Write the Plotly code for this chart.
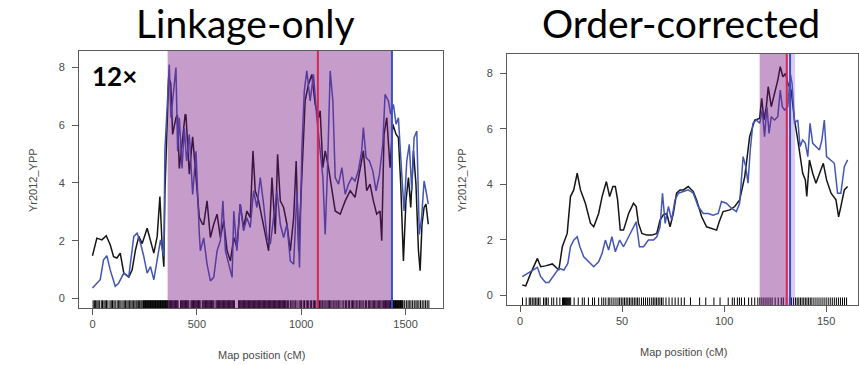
import plotly.graph_objects as go

# ---------------- Data: Linkage-only panel ----------------
lo_black_x = [0, 21, 45, 66, 85, 101, 117, 133, 150, 174, 190, 206, 222, 238, 262, 278, 294, 310, 323, 334, 342, 347, 355,
              365, 375, 384, 400, 407, 416, 432, 444, 448, 464, 480, 496, 512, 528, 533, 549, 565, 581, 597, 613, 629, 645,
              661, 677, 692, 708, 724, 740, 756, 769, 780, 796, 812, 828, 844, 860, 876, 887, 900, 916, 932, 948, 964,
              976, 988, 1003, 1019, 1035, 1051, 1067, 1083, 1091, 1104, 1115, 1131, 1163, 1187, 1211, 1235, 1258, 1282,
              1298, 1314, 1330, 1346, 1362, 1378, 1386, 1397, 1410, 1426, 1439, 1455, 1466, 1477, 1490, 1502, 1514,
              1525, 1538, 1550, 1562, 1570, 1579, 1589, 1598, 1609]
lo_black_y = [1.48, 2.09, 2.03, 2.17, 1.86, 1.45, 1.40, 1.57, 0.88, 0.74, 0.99, 1.68, 2.15, 1.90, 2.43, 2.03, 1.57, 2.15,
              3.53, 1.80, 1.10, 3.64, 5.26,
              7.65, 7.45, 5.68, 6.26, 6.35, 4.50, 5.68, 6.36, 6.35, 4.30, 5.60, 4.20, 2.80, 2.57, 2.57, 3.38, 2.11, 2.57,
              2.92, 2.11, 2.69, 1.65, 1.30, 2.11, 1.77, 3.27, 2.46, 3.03, 2.80, 5.11, 3.73, 3.38, 2.80, 2.34, 1.65, 4.19,
              2.23, 4.99, 3.38, 3.15, 2.57, 1.65, 2.80, 4.76, 1.65, 4.19, 6.84, 7.42, 7.76, 6.72, 6.26, 6.50, 4.53, 5.11,
              4.53, 3.03, 2.92, 3.38, 3.73, 3.50, 4.42, 5.11, 3.73, 3.96, 3.38, 2.92, 3.03, 2.00, 5.68, 6.26, 4.53, 6.03,
              5.68, 5.57, 3.96, 1.30, 3.38, 4.19, 3.15, 5.11, 3.96, 1.65, 0.96, 2.57, 3.15, 3.27, 2.57]

lo_blue_x = [0, 21, 37, 53, 69, 85, 109, 125, 150, 174, 198, 214, 230, 246, 262, 278, 294, 310, 326, 342, 347, 358,
             368, 376, 389, 400, 408, 416, 429, 440, 451, 464, 480, 496, 512, 517, 533, 549, 565, 581, 597, 613, 625, 637,
             653, 669, 677, 692, 708, 724, 740, 756, 772, 788, 804, 820, 836, 852, 868, 884, 900, 916, 932, 948, 964,
             980, 992, 1003, 1015, 1027, 1043, 1059, 1075, 1091, 1104, 1115, 1126, 1139, 1152, 1163, 1179, 1195, 1211,
             1227, 1243, 1258, 1274, 1290, 1298, 1311, 1327, 1343, 1359, 1375, 1391, 1402, 1418, 1429, 1442, 1455, 1466,
             1482, 1493, 1506, 1518, 1530, 1541, 1554, 1566, 1577, 1589, 1598, 1609]
lo_blue_y = [0.36, 0.53, 0.65, 1.34, 1.48, 0.99, 0.42, 0.53, 0.88, 0.76, 2.15, 2.26, 1.92, 1.45, 0.88, 1.10, 0.65, 1.34,
             2.03, 1.45, 5.15, 6.65,
             8.10, 6.26, 7.20, 8.00, 5.10, 6.26, 4.50, 5.90, 4.76, 5.68, 3.60, 5.10, 2.22, 1.65, 2.10, 1.19, 0.61, 0.73,
             1.65, 2.00, 3.38, 1.65, 1.19, 0.73, 3.03, 1.65, 3.27, 2.34, 2.80, 2.46, 3.73, 3.15, 4.19, 3.27, 2.11, 1.88,
             2.80, 3.73, 2.57, 2.11, 2.57, 1.30, 1.19, 3.73, 1.07, 5.11, 7.19, 7.88, 6.84, 7.76, 6.26, 5.11, 4.19, 2.22,
             4.42, 7.88, 6.84, 4.19, 3.96, 4.53, 3.61, 3.96, 4.19, 4.07, 4.42, 5.11, 5.92, 4.88, 4.76, 4.42, 3.73, 4.30,
             5.34, 7.07, 6.84, 6.38, 6.72, 6.03, 6.26, 4.30, 3.03, 4.76, 5.34, 3.73, 5.57, 5.80, 2.22, 2.80, 4.07, 3.73,
             3.27]

lo_markers = [3, 9, 15, 21, 27, 33, 42, 48, 55, 61, 67, 74, 84, 90, 96, 103, 109, 118, 124, 131, 137, 146, 152, 158,
              165, 171, 178, 184, 190, 196, 203, 209, 214, 220, 226, 232, 237,
              242, 245, 248, 251, 254, 257, 260, 263, 266, 269, 272, 275, 278, 281, 284, 287, 290, 293, 296, 299, 302,
              305, 308, 311, 314, 317, 320, 323, 326, 329, 332, 335, 338, 341, 344, 347, 350, 353, 356, 359, 362,
              366, 370, 374, 378, 382, 386, 390, 394, 398, 402, 406, 410, 422, 426, 430, 434, 438, 442, 446, 450, 454,
              458, 462, 472, 476, 480, 484, 488, 492, 496, 500, 504, 508, 512, 516, 526, 530, 534, 538, 542, 546, 550,
              554, 558, 562, 566, 570, 574, 578, 582, 592, 596, 600, 604, 608, 612, 616, 620, 624, 628, 632, 636, 640,
              644, 648, 652, 656, 660, 664, 668, 672, 676, 680, 700, 704, 708, 712, 716, 720, 724, 728, 732, 736, 740,
              744, 748, 752, 756, 760, 764, 768, 772, 776, 780, 784, 788, 792, 796, 800, 804, 808, 812, 816, 820, 824,
              828, 832, 836, 840, 844, 848, 852, 856, 860, 864, 868, 872, 876, 880, 884, 888, 892, 896, 900, 904, 908,
              912, 916, 920, 924, 928, 934, 940, 948, 952, 960, 966, 972, 980, 990, 996, 1002, 1010, 1016, 1024, 1030,
              1036, 1044, 1050, 1058, 1064, 1070, 1078, 1082, 1088, 1094, 1100, 1104, 1110, 1118, 1124, 1130, 1136,
              1142, 1148, 1156, 1162, 1168, 1176, 1180, 1186, 1196, 1204, 1212, 1218, 1226, 1232, 1240, 1246, 1252,
              1258, 1266, 1272, 1280, 1286, 1292, 1300, 1308, 1314, 1322, 1328, 1334, 1340, 1346, 1352, 1358, 1364,
              1370, 1376, 1382, 1388, 1394, 1400, 1404, 1408, 1412, 1416, 1420, 1424, 1428, 1434, 1437, 1440, 1443,
              1446, 1449, 1452, 1455, 1458, 1461, 1464, 1467, 1470, 1473, 1476, 1479, 1482, 1485, 1488, 1496, 1504,
              1512, 1518, 1526, 1534, 1542, 1550, 1556, 1564, 1572, 1580, 1588, 1596, 1604, 1612]

lo_interval = [360, 1435]
lo_peak_black = 1080
lo_peak_blue = 1435

# ---------------- Data: Order-corrected panel ----------------
oc_black_x = [1.1, 2.8, 5.2, 6.8, 8.5, 10.1, 12.5, 15.8, 17.4, 19.0, 20.7, 23.1, 24.7, 26.3, 28.0, 29.6, 32.0, 34.5,
              36.1, 38.5, 40.2, 42.3, 43.9, 45.5, 46.7, 47.8, 49.1, 50.7, 53.2, 55.6, 56.9, 58.0, 59.7, 62.1, 64.6,
              67.0, 68.6, 70.2, 71.9, 73.5, 75.1, 76.7, 78.4, 80.0, 82.4, 84.9, 86.5, 89.0, 91.4, 93.8, 96.3, 97.6,
              99.5, 102.8, 105.2, 107.6, 110.1, 112.5, 115.0, 117.4, 118.4, 119.5, 120.7, 121.6, 123.1, 124.7, 126.3,
              127.5, 128.8, 130.1, 131.2, 132.8, 134.5, 136.1, 137.7, 138.5, 139.8, 140.5, 141.8, 143.4, 145.0, 147.0,
              148.6, 150.2, 152.4, 154.8, 156.1, 157.2, 158.9, 160.5]
oc_black_y = [0.37, 0.34, 0.79, 1.03, 1.33, 1.03, 1.06, 1.13, 1.03, 0.91, 1.75, 2.23, 3.56, 3.80, 4.40, 3.80, 3.32, 2.60,
              2.47, 2.95, 3.56, 4.10, 3.56, 3.92, 3.92, 3.44, 2.35, 2.35, 2.95, 3.32, 3.20, 2.60, 2.23, 2.17, 2.17, 2.23,
              2.71, 2.90, 2.95, 2.47, 2.95, 3.68, 3.80, 3.80, 3.92, 3.74, 3.44, 2.83, 2.47, 2.41, 2.35, 2.65, 3.02, 3.08,
              3.20, 3.44, 4.28, 5.72, 6.32, 6.38, 7.10, 6.32, 6.80, 7.52, 6.80, 7.28, 7.76, 8.24, 7.88, 8.00, 7.64, 7.40,
              6.32, 5.60, 4.88, 4.40, 4.16, 3.56, 4.88, 4.40, 4.04, 4.40, 4.76, 4.16, 3.68, 3.44, 2.83, 3.20, 3.80, 3.92]

oc_blue_x = [1.1, 3.6, 6.0, 8.5, 10.1, 12.5, 14.1, 16.6, 19.0, 21.5, 23.4, 24.7, 26.3, 28.0, 29.3, 31.2, 33.7, 36.1,
             38.5, 40.2, 41.8, 43.4, 45.0, 46.7, 48.8, 50.7, 53.2, 55.6, 56.9, 58.5, 60.5, 62.9, 65.4, 67.0, 68.6, 69.8,
             71.1, 72.7, 74.3, 75.9, 77.6, 80.0, 82.4, 84.9, 87.3, 89.8, 92.2, 94.6, 97.1, 98.7, 101.1, 103.6, 106.0,
             107.6, 109.3, 110.6, 111.7, 112.8, 114.1, 115.8, 117.4, 118.7, 119.8, 121.0, 122.0, 123.1, 124.7, 126.3,
             127.5, 128.5, 129.6, 131.2, 132.4, 133.3, 134.5, 136.1, 137.2, 138.5, 139.8, 141.0, 142.1, 143.4, 145.0,
             146.7, 147.9, 149.1, 150.2, 152.4, 154.0, 155.6, 157.2, 158.9, 160.5]
oc_blue_y = [0.67, 0.79, 0.91, 1.01, 0.67, 0.46, 0.46, 0.73, 0.97, 0.91, 1.15, 1.75, 1.99, 2.11, 1.75, 1.39, 1.21, 1.03,
             1.21, 1.51, 1.99, 1.63, 2.11, 1.57, 1.99, 1.75, 2.11, 2.47, 2.65, 1.75, 1.75, 1.99, 1.99, 2.11, 2.47, 3.68,
             2.59, 3.20, 2.71, 3.44, 3.68, 3.74, 3.80, 3.68, 3.20, 2.95, 2.95, 2.89, 2.95, 3.38, 3.32, 3.14, 3.02, 3.32,
             5.00, 4.64, 4.04, 5.24, 6.20, 6.32, 6.20, 6.68, 5.72, 6.80, 5.84, 6.44, 6.32, 6.44, 7.40, 6.80, 6.68, 6.80,
             8.00, 7.64, 6.20, 6.32, 5.36, 5.60, 5.48, 5.00, 6.20, 5.48, 5.36, 5.24, 5.60, 6.32, 5.00, 4.88, 4.76, 3.68,
             3.68, 4.64, 4.88]

oc_markers = [1.2, 3.0, 4.5, 5.2, 6.0, 6.8, 7.5, 8.3, 9.0, 9.8, 11.5, 12.3, 13.0, 13.8, 15.5, 16.5, 18.0, 19.5, 20.8,
              21.3, 21.8, 22.3, 22.8, 23.3, 23.8, 24.3, 24.8, 26.5, 28.5, 30.5, 31.5, 33.5, 35.5, 36.5, 38.5, 40.0,
              41.0, 42.0, 43.2, 44.0, 45.0, 46.0, 47.0, 48.0, 48.8, 49.6, 50.4, 51.2, 52.0, 52.8, 53.6, 54.4, 55.2,
              56.0, 56.8, 57.6, 58.4, 59.5, 60.5, 61.5, 62.5, 63.5, 64.5, 65.3, 66.1, 66.9, 67.7, 68.5, 69.3, 70.1,
              71.5, 73.0, 74.5, 76.0, 77.5, 79.0, 80.5, 83.5, 88.0, 91.0, 95.0, 98.0, 102.0, 104.0, 105.0, 106.5,
              107.5, 108.5, 110.0, 112.0, 113.5, 115.0, 116.5, 117.5, 118.5, 119.5, 120.5, 121.5, 122.5, 123.5, 125.0,
              126.5, 128.0, 129.0, 130.5, 132.0, 133.0, 134.0, 135.0, 135.8, 136.6, 137.4, 138.2, 139.0, 139.8, 140.6,
              141.4, 142.2, 143.0, 144.0, 145.0, 146.0, 147.0, 148.0, 149.0, 150.0, 151.0, 152.0, 153.0, 154.0, 155.0,
              156.0, 157.0, 158.0, 159.0, 160.0]

oc_interval_black = [117.4, 131.2]
oc_interval_blue = [131.2, 134.8]
oc_peak_black = 130.7
oc_peak_blue = 132.3

x_ticks_lo = [0, 500, 1000, 1500]
x_ticks_oc = [0, 50, 100, 150]
y_ticks = [0, 2, 4, 6, 8]

# ---------------- Figure ----------------
W, H = 859, 365
BLACK = "#151515"
BLUE = "#4356b4"
PURPLE = "rgba(118,22,128,0.42)"
LAVENDER = "rgba(120,80,205,0.28)"
RED = "#d8264f"
VBLUE = "#3553c6"

lo_yr = [-0.33, 8.57]
oc_yr = [-0.35, 8.70]
lo_xr = [-64.6, 1679.6]
oc_xr = [-6.4, 165.6]


def rug(xs, yr):
    rx, ry = [], []
    h = 0.03 * (yr[1] - yr[0])
    for v in xs:
        rx += [v, v, None]
        ry += [yr[0], yr[0] + h, None]
    return rx, ry


fig = go.Figure()

rx, ry = rug(lo_markers, lo_yr)
fig.add_trace(go.Scatter(x=rx, y=ry, mode="lines", line=dict(color="black", width=1),
                         xaxis="x", yaxis="y", hoverinfo="skip"))
fig.add_trace(go.Scatter(x=lo_black_x, y=lo_black_y, mode="lines", line=dict(color=BLACK, width=1.5),
                         xaxis="x", yaxis="y"))
fig.add_trace(go.Scatter(x=lo_blue_x, y=lo_blue_y, mode="lines", line=dict(color=BLUE, width=1.5),
                         xaxis="x", yaxis="y"))

rx, ry = rug(oc_markers, oc_yr)
fig.add_trace(go.Scatter(x=rx, y=ry, mode="lines", line=dict(color="black", width=1),
                         xaxis="x2", yaxis="y2", hoverinfo="skip"))
fig.add_trace(go.Scatter(x=oc_black_x, y=oc_black_y, mode="lines", line=dict(color=BLACK, width=1.5),
                         xaxis="x2", yaxis="y2"))
fig.add_trace(go.Scatter(x=oc_blue_x, y=oc_blue_y, mode="lines", line=dict(color=BLUE, width=1.5),
                         xaxis="x2", yaxis="y2"))

shapes = [
    dict(type="rect", xref="x", yref="y domain", x0=lo_interval[0], x1=lo_interval[1], y0=0, y1=1,
         fillcolor=PURPLE, line=dict(width=0), layer="above"),
    dict(type="line", xref="x", yref="y domain", x0=lo_peak_black, x1=lo_peak_black, y0=0, y1=1,
         line=dict(color=RED, width=2), layer="above"),
    dict(type="line", xref="x", yref="y domain", x0=lo_peak_blue, x1=lo_peak_blue, y0=0, y1=1,
         line=dict(color=VBLUE, width=2), layer="above"),
    dict(type="rect", xref="x2", yref="y2 domain", x0=oc_interval_black[0], x1=oc_interval_black[1], y0=0, y1=1,
         fillcolor=PURPLE, line=dict(width=0), layer="above"),
    dict(type="rect", xref="x2", yref="y2 domain", x0=oc_interval_blue[0], x1=oc_interval_blue[1], y0=0, y1=1,
         fillcolor=LAVENDER, line=dict(width=0), layer="above"),
    dict(type="line", xref="x2", yref="y2 domain", x0=oc_peak_blue, x1=oc_peak_blue, y0=0, y1=1,
         line=dict(color=VBLUE, width=2), layer="above"),
    dict(type="line", xref="x2", yref="y2 domain", x0=oc_peak_black, x1=oc_peak_black, y0=0, y1=1,
         line=dict(color=RED, width=2), layer="above"),
]

TICKFONT = dict(family="Liberation Sans, Arial, sans-serif", size=11, color="#4a4a4a")
axis_common = dict(showgrid=False, zeroline=False, showline=True, mirror=True, linecolor="#5a5a5a",
                   linewidth=1, ticks="outside", ticklen=6, tickcolor="#5a5a5a", tickfont=TICKFONT,
                   fixedrange=True)


def px2paper_x(px):
    return px / W


def px2paper_y(py):
    return 1 - py / H


TITLEFONT = dict(family="Lato, Open Sans, sans-serif", size=39, color="black")

fig.update_layout(
    width=W, height=H, margin=dict(l=0, r=0, t=0, b=0),
    paper_bgcolor="white", plot_bgcolor="white", showlegend=False,
    xaxis=dict(domain=[px2paper_x(79), px2paper_x(443)], range=lo_xr, tickvals=x_ticks_lo,
               anchor="y", **axis_common),
    yaxis=dict(domain=[px2paper_y(308), px2paper_y(51)], range=lo_yr, tickvals=y_ticks,
               anchor="x", ticklabelstandoff=5, **axis_common),
    xaxis2=dict(domain=[px2paper_x(507), px2paper_x(858)], range=oc_xr, tickvals=x_ticks_oc,
                anchor="y2", **axis_common),
    yaxis2=dict(domain=[px2paper_y(305), px2paper_y(54)], range=oc_yr, tickvals=y_ticks,
                anchor="x2", ticklabelstandoff=5, **axis_common),
    shapes=shapes,
    annotations=[
        dict(text="Linkage-only", x=px2paper_x(245), y=px2paper_y(23), xref="paper", yref="paper",
             showarrow=False, font=TITLEFONT, xanchor="center", yanchor="middle"),
        dict(text="Order-corrected", x=px2paper_x(681), y=px2paper_y(23), xref="paper", yref="paper",
             showarrow=False, font=TITLEFONT, xanchor="center", yanchor="middle"),
        dict(text="<b>12×</b>", x=px2paper_x(90), y=px2paper_y(76), xref="paper", yref="paper",
             showarrow=False, font=dict(family="Lato, Open Sans, sans-serif", size=26, color="black"),
             xanchor="left", yanchor="middle"),
        dict(text="Map position (cM)", x=px2paper_x(261), y=px2paper_y(355), xref="paper", yref="paper",
             showarrow=False, font=TICKFONT, xanchor="center", yanchor="middle"),
        dict(text="Map position (cM)", x=px2paper_x(683), y=px2paper_y(352), xref="paper", yref="paper",
             showarrow=False, font=TICKFONT, xanchor="center", yanchor="middle"),
        dict(text="Yr2012_YPP", x=px2paper_x(33), y=px2paper_y(180), xref="paper", yref="paper",
             showarrow=False, font=TICKFONT, textangle=-90, xanchor="center", yanchor="middle"),
        dict(text="Yr2012_YPP", x=px2paper_x(462), y=px2paper_y(180), xref="paper", yref="paper",
             showarrow=False, font=TICKFONT, textangle=-90, xanchor="center", yanchor="middle"),
    ],
)

fig.write_html("out.html", config={"displayModeBar": False},
               post_script="document.body.style.margin='0px';")
